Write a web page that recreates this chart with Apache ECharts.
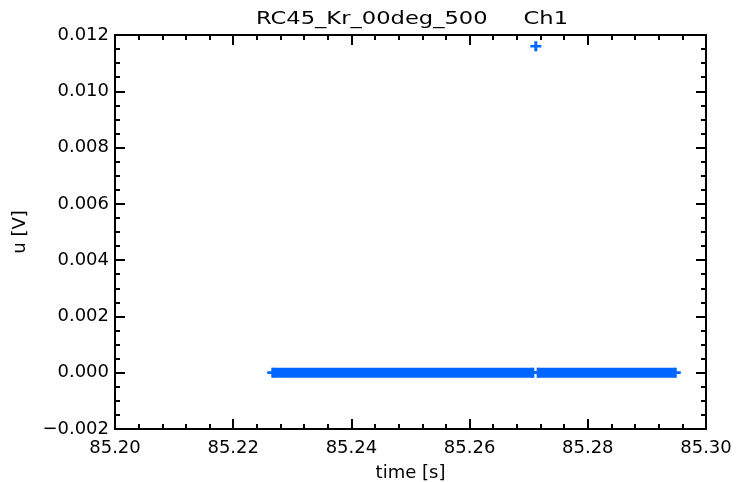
<!DOCTYPE html>
<html>
<head>
<meta charset="utf-8">
<script src="https://cdn.jsdelivr.net/npm/echarts@6/dist/echarts.min.js"></script>
<style>
html,body{margin:0;padding:0;background:#fff;}
#chart{width:736px;height:482px;}
</style>
</head>
<body>
<div id="chart"></div>
<script>
// ---- data ----
const titleText = 'RC45_Kr_00deg_500     Ch1';
const xName = 'time [s]';
const yName = 'u [V]';
const xMin = 85.20, xMax = 85.30, xStep = 0.02;
const yMin = -0.002, yMax = 0.012, yStep = 0.002;
// baseline samples (u = 0) drawn as dense '+' marks forming two runs
const runStart = [85.2267, 85.2716];
const runEnd   = [85.2707, 85.2948];
const runLevel = [0, 0];
// single spike sample
const spikeTime  = [85.2712];
const spikeValue = [0.0116];

const blue = '#0066ff';
const font = 'DejaVu Sans';
const plus = 'path://M4,0H7V4H11V7H7V11H4V7H0V4H4Z';

const series = [];
for (let i = 0; i < runStart.length; i++) {
  series.push({
    type: 'line',
    data: [[runStart[i], runLevel[i]], [runEnd[i], runLevel[i]]],
    symbol: plus,
    symbolSize: [11, 10],
    showSymbol: true,
    itemStyle: {color: blue, opacity: 1},
    lineStyle: {color: blue, width: 10, cap: 'butt', opacity: 1},
    animation: false,
    silent: true
  });
}
series.push({
  type: 'scatter',
  data: spikeTime.map((t, i) => [t, spikeValue[i]]),
  symbol: plus,
  symbolSize: [11, 10],
  itemStyle: {color: blue, opacity: 1},
  animation: false
});

function axisBase(split) {
  return {
    axisLine: {show: true, onZero: false, lineStyle: {color: '#000', width: 2}},
    axisTick: {show: true, inside: true, length: 10, lineStyle: {color: '#000', width: 2}},
    minorTick: {show: true, splitNumber: split, length: 5, lineStyle: {color: '#000', width: 2}},
    splitLine: {show: false}
  };
}

const chart = echarts.init(document.getElementById('chart'), null, {renderer: 'canvas'});
chart.setOption({
  backgroundColor: '#fff',
  animation: false,
  graphic: [{
    type: 'text',
    x: 412, y: 20,
    scaleX: 1.33, scaleY: 1,
    style: {
      text: titleText,
      fontFamily: font, fontSize: 17, fill: '#000',
      textAlign: 'center', textVerticalAlign: 'middle'
    }
  }],
  grid: {left: 115, right: 30, top: 35, bottom: 53, containLabel: false, outerBoundsMode: 'none'},
  xAxis: [
    Object.assign(axisBase(5), {
      type: 'value', position: 'bottom', min: xMin, max: xMax, interval: xStep,
      name: xName, nameLocation: 'middle', nameGap: 35,
      nameTextStyle: {fontFamily: font, fontSize: 18, color: '#000'},
      axisLabel: {fontFamily: font, fontSize: 18, color: '#000', margin: 10,
        formatter: v => v.toFixed(2)}
    }),
    Object.assign(axisBase(5), {
      type: 'value', position: 'top', min: xMin, max: xMax, interval: xStep,
      axisLabel: {show: false}
    })
  ],
  yAxis: [
    Object.assign(axisBase(4), {
      type: 'value', position: 'left', min: yMin, max: yMax, interval: yStep,
      name: yName, nameLocation: 'middle', nameGap: 86, nameRotate: 90,
      nameTextStyle: {fontFamily: font, fontSize: 18, color: '#000'},
      axisLabel: {fontFamily: font, fontSize: 18, color: '#000', margin: 6,
        formatter: v => (v < -1e-9 ? '\u2212' : '') + Math.abs(v).toFixed(3)}
    }),
    Object.assign(axisBase(4), {
      type: 'value', position: 'right', min: yMin, max: yMax, interval: yStep,
      axisLabel: {show: false}
    })
  ],
  series: series
});
</script>
</body>
</html>
